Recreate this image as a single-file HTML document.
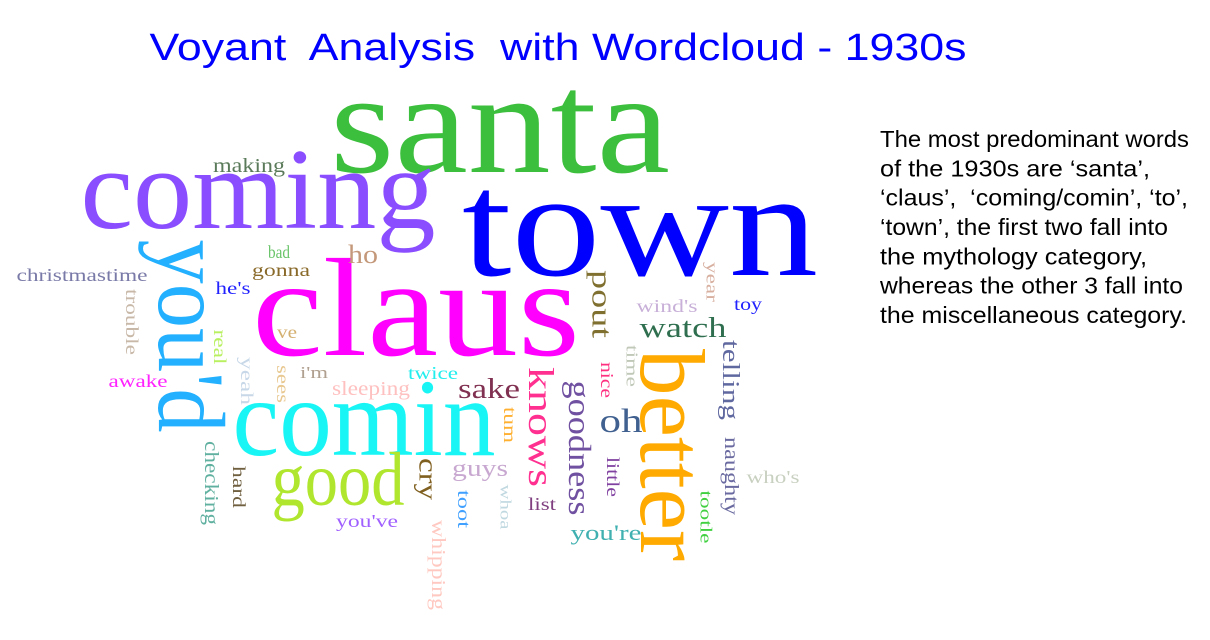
<!DOCTYPE html>
<html>
<head>
<meta charset="utf-8">
<style>
html,body{margin:0;padding:0;background:#fff;width:1210px;height:640px;overflow:hidden;}
svg{display:block;}
.w{font-family:"Liberation Serif","DejaVu Serif",serif;}
.s{font-family:"Liberation Sans",Arial,sans-serif;}
</style>
</head>
<body>
<svg width="1210" height="640" viewBox="0 0 1210 640">
<text class="s" x="558" y="60" text-anchor="middle" font-size="38" fill="#0000ff" textLength="817" lengthAdjust="spacingAndGlyphs" xml:space="preserve">Voyant  Analysis  with Wordcloud - 1930s</text>

<g class="s" font-size="23.5" fill="#000">
<text x="880" y="147" textLength="309" lengthAdjust="spacingAndGlyphs">The most predominant words</text>
<text x="880" y="176.3" textLength="270" lengthAdjust="spacingAndGlyphs">of the 1930s are ‘santa’,</text>
<text x="880" y="205.6" textLength="308" lengthAdjust="spacingAndGlyphs" xml:space="preserve">‘claus’,  ‘coming/comin’, ‘to’,</text>
<text x="880" y="235" textLength="288" lengthAdjust="spacingAndGlyphs">‘town’, the first two fall into</text>
<text x="880" y="264.3" textLength="267" lengthAdjust="spacingAndGlyphs">the mythology category,</text>
<text x="880" y="293.6" textLength="303" lengthAdjust="spacingAndGlyphs">whereas the other 3 fall into</text>
<text x="880" y="323" textLength="307" lengthAdjust="spacingAndGlyphs">the miscellaneous category.</text>
</g>

<g class="w" text-anchor="middle">
<text x="500" y="172" font-size="145" fill="#3cbf3c" textLength="340" lengthAdjust="spacingAndGlyphs">santa</text>
<text x="258" y="228" font-size="115" fill="#8a4dff" textLength="355" lengthAdjust="spacingAndGlyphs">coming</text>
<text x="640" y="275" font-size="150" fill="#0000ff" textLength="356" lengthAdjust="spacingAndGlyphs">town</text>
<text x="416" y="355" font-size="140" fill="#ff00ff" textLength="328" lengthAdjust="spacingAndGlyphs">claus</text>
<text x="364" y="455" font-size="110" fill="#19f5f5" textLength="263" lengthAdjust="spacingAndGlyphs">comin</text>
<text x="338" y="505" font-size="76" fill="#b0e62e" textLength="133" lengthAdjust="spacingAndGlyphs">good</text>
<text x="249" y="172" font-size="20" fill="#5a7a5a" textLength="72" lengthAdjust="spacingAndGlyphs">making</text>
<text x="279" y="258" font-size="18" fill="#6ac46a" textLength="22" lengthAdjust="spacingAndGlyphs">bad</text>
<text x="281" y="276" font-size="18" fill="#8a6a2a" textLength="58" lengthAdjust="spacingAndGlyphs">gonna</text>
<text x="363" y="263" font-size="26" fill="#c4987a" textLength="30" lengthAdjust="spacingAndGlyphs">ho</text>
<text x="82" y="281" font-size="18" fill="#7a7aa8" textLength="131" lengthAdjust="spacingAndGlyphs">christmastime</text>
<text x="233" y="294" font-size="18" fill="#2222ff" textLength="35" lengthAdjust="spacingAndGlyphs">he's</text>
<text x="287" y="338" font-size="18" fill="#d4b070" textLength="20" lengthAdjust="spacingAndGlyphs">ve</text>
<text x="138" y="387" font-size="18" fill="#ff22ff" textLength="59" lengthAdjust="spacingAndGlyphs">awake</text>
<text x="314" y="378" font-size="17" fill="#b0a090" textLength="28" lengthAdjust="spacingAndGlyphs">i'm</text>
<text x="371" y="395" font-size="20" fill="#ffc0c0" textLength="78" lengthAdjust="spacingAndGlyphs">sleeping</text>
<text x="433" y="379" font-size="18" fill="#22eeee" textLength="50" lengthAdjust="spacingAndGlyphs">twice</text>
<text x="367" y="527" font-size="18" fill="#a060ff" textLength="62" lengthAdjust="spacingAndGlyphs">you've</text>
<text x="489" y="398" font-size="28" fill="#803050" textLength="62" lengthAdjust="spacingAndGlyphs">sake</text>
<text x="480" y="476" font-size="24" fill="#c8a8d0" textLength="56" lengthAdjust="spacingAndGlyphs">guys</text>
<text x="542" y="510" font-size="18" fill="#804080" textLength="28" lengthAdjust="spacingAndGlyphs">list</text>
<text x="621" y="432" font-size="34" fill="#406090" textLength="43" lengthAdjust="spacingAndGlyphs">oh</text>
<text x="683" y="337" font-size="28" fill="#2f6f4f" textLength="87" lengthAdjust="spacingAndGlyphs">watch</text>
<text x="667" y="312" font-size="18" fill="#c8b0d8" textLength="61" lengthAdjust="spacingAndGlyphs">wind's</text>
<text x="748" y="310" font-size="18" fill="#2222ff" textLength="28" lengthAdjust="spacingAndGlyphs">toy</text>
<text x="606" y="540" font-size="22" fill="#40b0b0" textLength="71" lengthAdjust="spacingAndGlyphs">you're</text>
<text x="773" y="483" font-size="18" fill="#c8d0c0" textLength="53" lengthAdjust="spacingAndGlyphs">who's</text>

<text x="191" y="336" font-size="95" fill="#22b0ff" dominant-baseline="central" transform="rotate(90 191 336)" textLength="193" lengthAdjust="spacingAndGlyphs">you'd</text>
<text x="132" y="322" font-size="18" fill="#c8b8a8" dominant-baseline="central" transform="rotate(90 132 322)" textLength="66" lengthAdjust="spacingAndGlyphs">trouble</text>
<text x="220" y="347" font-size="18" fill="#b8f060" dominant-baseline="central" transform="rotate(90 220 347)" textLength="35" lengthAdjust="spacingAndGlyphs">real</text>
<text x="247" y="381" font-size="18" fill="#c8d8e8" dominant-baseline="central" transform="rotate(90 247 381)" textLength="48" lengthAdjust="spacingAndGlyphs">yeah</text>
<text x="283" y="384" font-size="18" fill="#e8c890" dominant-baseline="central" transform="rotate(90 283 384)" textLength="38" lengthAdjust="spacingAndGlyphs">sees</text>
<text x="211" y="483" font-size="20" fill="#60b0a0" dominant-baseline="central" transform="rotate(90 211 483)" textLength="84" lengthAdjust="spacingAndGlyphs">checking</text>
<text x="239" y="487" font-size="18" fill="#706040" dominant-baseline="central" transform="rotate(90 239 487)" textLength="42" lengthAdjust="spacingAndGlyphs">hard</text>
<text x="438" y="565" font-size="20" fill="#ffc8c0" dominant-baseline="central" transform="rotate(90 438 565)" textLength="90" lengthAdjust="spacingAndGlyphs">whipping</text>
<text x="428" y="479" font-size="26" fill="#806020" dominant-baseline="central" transform="rotate(90 428 479)" textLength="42" lengthAdjust="spacingAndGlyphs">cry</text>
<text x="510" y="425" font-size="18" fill="#ffb030" dominant-baseline="central" transform="rotate(90 510 425)" textLength="36" lengthAdjust="spacingAndGlyphs">tum</text>
<text x="464" y="509" font-size="18" fill="#40a0ff" dominant-baseline="central" transform="rotate(90 464 509)" textLength="38" lengthAdjust="spacingAndGlyphs">toot</text>
<text x="505" y="507" font-size="16" fill="#c0d8e0" dominant-baseline="central" transform="rotate(90 505 507)" textLength="45" lengthAdjust="spacingAndGlyphs">whoa</text>
<text x="541" y="427" font-size="36" fill="#ff3090" dominant-baseline="central" transform="rotate(90 541 427)" textLength="120" lengthAdjust="spacingAndGlyphs">knows</text>
<text x="580" y="448" font-size="32" fill="#7050a0" dominant-baseline="central" transform="rotate(90 580 448)" textLength="135" lengthAdjust="spacingAndGlyphs">goodness</text>
<text x="601" y="304" font-size="28" fill="#807030" dominant-baseline="central" transform="rotate(90 601 304)" textLength="68" lengthAdjust="spacingAndGlyphs">pout</text>
<text x="607" y="380" font-size="18" fill="#ff3080" dominant-baseline="central" transform="rotate(90 607 380)" textLength="36" lengthAdjust="spacingAndGlyphs">nice</text>
<text x="632" y="366" font-size="17" fill="#c0c8b8" dominant-baseline="central" transform="rotate(90 632 366)" textLength="42" lengthAdjust="spacingAndGlyphs">time</text>
<text x="613" y="477" font-size="18" fill="#8040a0" dominant-baseline="central" transform="rotate(90 613 477)" textLength="40" lengthAdjust="spacingAndGlyphs">little</text>
<text x="672" y="455" font-size="92" fill="#ffaa00" dominant-baseline="central" transform="rotate(90 672 455)" textLength="212" lengthAdjust="spacingAndGlyphs">better</text>
<text x="712" y="282" font-size="17" fill="#d8b0a0" dominant-baseline="central" transform="rotate(90 712 282)" textLength="40" lengthAdjust="spacingAndGlyphs">year</text>
<text x="730" y="380" font-size="24" fill="#6068a0" dominant-baseline="central" transform="rotate(90 730 380)" textLength="80" lengthAdjust="spacingAndGlyphs">telling</text>
<text x="731" y="476" font-size="20" fill="#6a6aa0" dominant-baseline="central" transform="rotate(90 731 476)" textLength="78" lengthAdjust="spacingAndGlyphs">naughty</text>
<text x="706" y="517" font-size="17" fill="#40d040" dominant-baseline="central" transform="rotate(90 706 517)" textLength="53" lengthAdjust="spacingAndGlyphs">tootle</text>
</g>
</svg>
</body>
</html>
